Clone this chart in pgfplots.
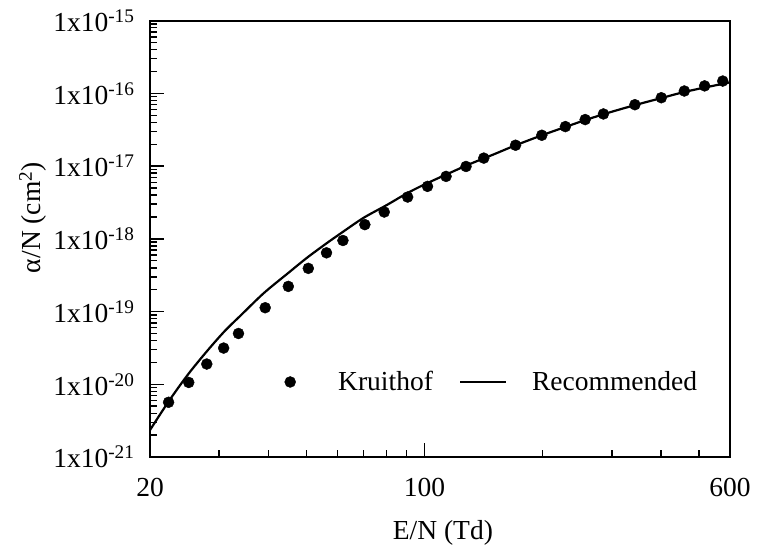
\documentclass[border=0pt]{standalone}
\usepackage{fontspec}
\setmainfont{Liberation Serif}
\usepackage{pgfplots}
\pgfplotsset{compat=1.18}
\newcommand{\bigf}{\fontsize{27.5}{32}\selectfont}
\pgfplotsset{
  dotleg/.style={legend image code/.code={\path[draw=none,fill=none] (0pt,0pt) (46pt,0pt);\draw[mark repeat=2,mark phase=2,##1] plot coordinates {(0pt,0pt) (23pt,0pt) (46pt,0pt)};}},
  lineleg/.style={legend image code/.code={\draw[##1] (0pt,0pt) -- (46pt,0pt);}},
}
\begin{document}
\begin{tikzpicture}
\useasboundingbox (0,0) rectangle (757pt,554pt);
\begin{axis}[
  at={(150pt,97pt)}, anchor=south west,
  scale only axis, width=580pt, height=436.3pt,
  xmode=log, ymode=log,
  xmin=20, xmax=600, ymin=1e-21, ymax=1e-15,
  axis line style={line width=2.2pt},
  every tick/.style={black, line width=1.4pt},
  major tick length=14pt, minor tick length=7pt,
  tick align=inside, tick pos=left,
  xtick={20,100,600}, xticklabels={20,100,600},
  minor xtick={30,40,50,60,70,80,90,200,300,400,500},
  ytick={1e-21,1e-20,1e-19,1e-18,1e-17,1e-16,1e-15},
  yticklabels={1x10\textsuperscript{-21},1x10\textsuperscript{-20},1x10\textsuperscript{-19},1x10\textsuperscript{-18},1x10\textsuperscript{-17},1x10\textsuperscript{-16},1x10\textsuperscript{-15}},
  minor ytick={2e-21,3e-21,4e-21,5e-21,6e-21,7e-21,8e-21,9e-21,
               2e-20,3e-20,4e-20,5e-20,6e-20,7e-20,8e-20,9e-20,
               2e-19,3e-19,4e-19,5e-19,6e-19,7e-19,8e-19,9e-19,
               2e-18,3e-18,4e-18,5e-18,6e-18,7e-18,8e-18,9e-18,
               2e-17,3e-17,4e-17,5e-17,6e-17,7e-17,8e-17,9e-17,
               2e-16,3e-16,4e-16,5e-16,6e-16,7e-16,8e-16,9e-16},
  tick label style={font=\bigf},
  xticklabel style={yshift=-18pt},
  yticklabel style={xshift=-12pt},
  label style={font=\bigf},
  xlabel={E/N (Td)},
  xlabel style={at={(axis description cs:0.505,-0.190)}, anchor=base},
  ylabel={α/N (cm\textsuperscript{2})},
  ylabel style={at={(axis description cs:-0.2017,0.5487)}, anchor=center, rotate=0},
  legend columns=2,
  legend cell align=left,
  legend style={draw=none, fill=none, inner sep=0pt, font=\bigf,
    at={(axis description cs:0.2017,0.172)}, anchor=west,
    nodes={inner sep=0pt},
    /tikz/every odd column/.append style={column sep=25pt},
    /tikz/every even column/.append style={column sep=26pt}},
]
\addplot[only marks, mark=*, mark size=5.5pt, black, dotleg]
  table {
x y
22.3 5.66e-21
25.1 1.06e-20
27.9 1.9e-20
30.8 3.15e-20
33.6 5.0e-20
39.3 1.13e-19
45.0 2.22e-19
50.6 3.93e-19
56.3 6.43e-19
62.0 9.5e-19
70.5 1.57e-18
79.0 2.34e-18
90.6 3.76e-18
101.8 5.27e-18
113.5 7.23e-18
127.6 9.9e-18
141.6 1.29e-17
170.6 1.94e-17
199 2.66e-17
228.5 3.5e-17
256.6 4.37e-17
285.6 5.22e-17
343.5 7.0e-17
401 8.73e-17
459 1.08e-16
517 1.27e-16
575 1.48e-16
};
\addlegendentry{Kruithof}
\addplot[black, line width=2.2pt, smooth, lineleg]
  table {
x y
20 2.35e-21
22.3 5.8e-21
25 1.37e-20
28 2.9e-20
31 5.4e-20
34 8.8e-20
39 1.8e-19
45 3.4e-19
50 5.4e-19
56 8.5e-19
62 1.25e-18
70 1.95e-18
80 2.9e-18
90 4.2e-18
100 5.6e-18
115 7.9e-18
130 1.06e-17
150 1.45e-17
170 1.92e-17
200 2.68e-17
230 3.5e-17
260 4.4e-17
300 5.6e-17
350 7.1e-17
400 8.6e-17
450 1.02e-16
500 1.16e-16
550 1.29e-16
600 1.42e-16
};
\addlegendentry{Recommended}
\end{axis}
\end{tikzpicture}
\end{document}
